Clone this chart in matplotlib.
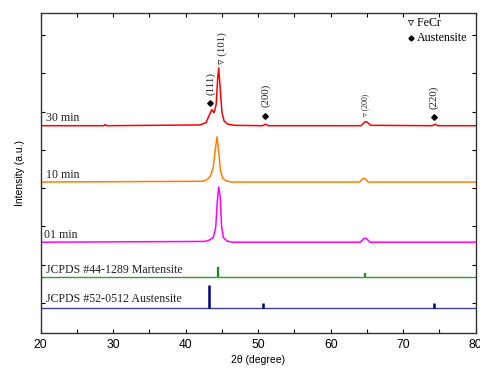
import matplotlib
matplotlib.use("Agg")
import matplotlib.pyplot as plt
from matplotlib.ticker import MultipleLocator

# XRD patterns (2theta, intensity above baseline)
t30 = [20, 28.7, 28.9, 29.1, 42.0, 42.8, 43.2, 43.6, 43.9, 44.2, 44.4, 44.55, 44.75, 45.0, 45.3, 45.8, 46.8,
       50.6, 51.0, 51.4, 64.2, 64.7, 65.0, 65.5, 74.0, 74.4, 74.8, 80]
i30 = [0, 0, 0.03, 0, 0.02, 0.08, 0.25, 0.42, 0.34, 0.55, 1.2, 1.51, 1.0, 0.35, 0.12, 0.04, 0.01,
       0, 0.04, 0, 0, 0.1, 0.1, 0.01, 0, 0.04, 0, 0]

t10 = [20, 42.3, 42.9, 43.4, 43.8, 44.05, 44.32, 44.55, 44.8, 45.1, 45.6, 46.3, 64.0, 64.5, 64.8, 65.2, 80]
i10 = [0, 0.02, 0.06, 0.15, 0.38, 0.8, 1.18, 0.8, 0.3, 0.1, 0.03, 0, 0, 0.1, 0.08, 0, 0]

t01 = [20, 42.6, 43.2, 43.8, 44.15, 44.35, 44.55, 44.75, 44.95, 45.2, 45.7, 46.4, 64.1, 64.6, 64.9, 65.4, 80]
i01 = [0, 0.02, 0.05, 0.12, 0.4, 1.05, 1.44, 1.2, 0.4, 0.12, 0.03, 0, 0, 0.1, 0.1, 0, 0]

# reference cards (stick positions and heights)
mart_pos = [44.5, 64.73]
mart_h = [0.26, 0.1]
aust_pos = [43.21, 50.62, 74.29]
aust_h = [0.6, 0.13, 0.13]

offsets = {"30": 4.63, "10": 3.16, "01": 1.59, "mart": 0.68, "aust": -0.12}

serif = ["Liberation Serif", "DejaVu Serif", "DejaVu Sans"]
plt.rcParams["font.family"] = ["Liberation Sans", "DejaVu Sans"]

fig = plt.figure(figsize=(4.8, 3.78), dpi=100)
ax = fig.add_axes([0.0848, 0.119, 0.9062, 0.8475])

ax.plot(t30, [v + offsets["30"] for v in i30], color="#ff0000", lw=1.1)
ax.plot(t10, [v + offsets["10"] for v in i10], color="#ff7f00", lw=1.1)
ax.plot(t01, [v + offsets["01"] for v in i01], color="#ff00ff", lw=1.1)

ax.axhline(offsets["mart"], color="#2ca02c", lw=1.0)
ax.vlines(mart_pos, offsets["mart"], [offsets["mart"] + h for h in mart_h], color="#1a8a1a", lw=1.6)
ax.axhline(offsets["aust"], color="#4040a0", lw=1.0)
ax.vlines(aust_pos, offsets["aust"], [offsets["aust"] + h for h in aust_h], color="#000080", lw=1.8)

# curve labels
lab_kw = dict(family=serif, fontsize=8.6, va="center", ha="left", color="#222222")
ax.text(20.7, 4.83, "30 min", **lab_kw)
ax.text(20.7, 3.34, "10 min", **lab_kw)
ax.text(20.5, 1.78, "01 min", **lab_kw)
ax.text(20.7, 0.86, "JCPDS #44-1289 Martensite", **lab_kw)
ax.text(20.7, 0.10, "JCPDS #52-0512 Austensite", **lab_kw)

# peak indexing
rot_kw = dict(family=serif, rotation=90, ha="center", va="center", color="#222222")
ax.text(43.5, 5.72, "(111)", fontsize=7.8, **rot_kw)
ax.text(44.97, 6.66, "\u25bf (101)", fontsize=7.8, **rot_kw)
ax.text(51.03, 5.43, "(200)", fontsize=7.8, **rot_kw)
ax.text(64.73, 5.17, "\u25bf (200)", fontsize=5.5, **rot_kw)
ax.text(74.26, 5.38, "(220)", fontsize=7.8, **rot_kw)

diam_x = [43.35, 50.94, 74.26]
diam_y = [5.22, 4.88, 4.86]
ax.plot(diam_x, diam_y, ls="none", marker="D", ms=2.8, color="black")

# legend
ax.text(70.7, 7.31, "\u25bf FeCr", family=serif, fontsize=8.6, va="center", ha="left")
ax.plot([71.1], [6.92], ls="none", marker="D", ms=2.6, color="black")
ax.text(71.9, 6.92, "Austensite", family=serif, fontsize=8.6, va="center", ha="left")

ax.set_xlim(20, 80)
ax.set_ylim(-0.78, 7.58)
ax.xaxis.set_major_locator(MultipleLocator(10))
ax.xaxis.set_minor_locator(MultipleLocator(5))
ax.yaxis.set_major_locator(MultipleLocator(1))
ax.set_yticklabels([])
ax.tick_params(which="both", direction="in", top=True, right=True, length=3, width=0.8)
ax.tick_params(axis="x", labelsize=8.8, pad=4)
for s in ax.spines.values():
    s.set_linewidth(1.0)
    s.set_color("#333333")

ax.set_xlabel("2\u03b8 (degree)", fontsize=7.5, labelpad=3)
ax.set_ylabel("Intensity (a.u.)", fontsize=7.5, labelpad=8)

fig.savefig("out.png", dpi=100)
